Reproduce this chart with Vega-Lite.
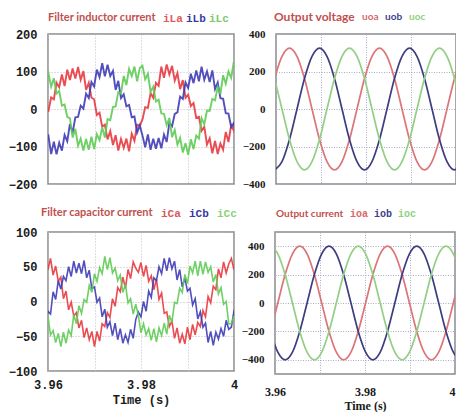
{
  "$schema": "https://vega.github.io/schema/vega-lite/v6.json",
  "background": "#ffffff",
  "padding": {"left": 7, "top": 11, "right": 0, "bottom": 0},
  "config": {
    "view": {"stroke": "#8a8a8a", "strokeWidth": 1.5},
    "axis": {"ticks": false, "domain": false, "grid": true, "labelFlush": false, "gridColor": "#bdbdbd", "gridDash": [1, 2], "gridWidth": 1, "labelFont": "Liberation Mono", "labelFontWeight": "bold", "labelFontSize": 12, "labelColor": "#1a1a1a", "titleFont": "Liberation Mono", "titleFontWeight": "normal", "titleFontSize": 12, "titleColor": "#1a1a1a"},
    "legend": {"orient": "none", "direction": "horizontal", "titleOrient": "left", "titleColor": "#c0504d", "titleFont": "Lato", "titleFontSize": 11, "titleFontWeight": "bold", "titlePadding": 7, "titleLimit": 300, "symbolSize": 0, "symbolOpacity": 0, "symbolStrokeWidth": 0, "labelOffset": -11, "columnPadding": 5, "labelFont": "Liberation Mono", "labelFontWeight": "bold", "labelFontSize": 11}
  },
  "datasets": {
    "iL": [
      {"t":3.95952,"iLa":-6,"iLb":-83,"iLc":73},{"t":3.96010,"iLa":-5,"iLb":-72,"iLc":95},{"t":3.96068,"iLa":31,"iLb":-120,"iLc":60},{"t":3.96126,"iLa":26,"iLb":-87,"iLc":82},
      {"t":3.96183,"iLa":70,"iLb":-121,"iLc":41},{"t":3.96241,"iLa":58,"iLb":-90,"iLc":48},{"t":3.96299,"iLa":92,"iLb":-111,"iLc":9},{"t":3.96357,"iLa":61,"iLb":-69,"iLc":12},
      {"t":3.96414,"iLa":105,"iLb":-86,"iLc":-21},{"t":3.96472,"iLa":77,"iLb":-40,"iLc":-25},{"t":3.96530,"iLa":108,"iLb":-63,"iLc":-76},{"t":3.96588,"iLa":81,"iLb":-22,"iLc":-53},
      {"t":3.96646,"iLa":112,"iLb":-21,"iLc":-98},{"t":3.96703,"iLa":78,"iLb":9,"iLc":-79},{"t":3.96761,"iLa":101,"iLb":1,"iLc":-111},{"t":3.96819,"iLa":51,"iLb":41,"iLc":-80},
      {"t":3.96877,"iLa":70,"iLb":29,"iLc":-109},{"t":3.96934,"iLa":30,"iLb":72,"iLc":-74},{"t":3.96992,"iLa":26,"iLb":60,"iLc":-107},{"t":3.97050,"iLa":-16,"iLb":105,"iLc":-67},
      {"t":3.97108,"iLa":-10,"iLb":85,"iLc":-83},{"t":3.97166,"iLa":-47,"iLb":122,"iLc":-49},{"t":3.97223,"iLa":-42,"iLb":87,"iLc":-76},{"t":3.97281,"iLa":-81,"iLb":118,"iLc":-27},
      {"t":3.97339,"iLa":-59,"iLb":88,"iLc":-30},{"t":3.97397,"iLa":-96,"iLb":102,"iLc":5},{"t":3.97454,"iLa":-70,"iLb":51,"iLc":7},{"t":3.97512,"iLa":-111,"iLb":75,"iLc":45},
      {"t":3.97570,"iLa":-80,"iLb":29,"iLc":41},{"t":3.97628,"iLa":-104,"iLb":39,"iLc":88},{"t":3.97686,"iLa":-79,"iLb":7,"iLc":64},{"t":3.97743,"iLa":-113,"iLb":11,"iLc":107},
      {"t":3.97801,"iLa":-66,"iLb":-22,"iLc":88},{"t":3.97859,"iLa":-85,"iLb":-20,"iLc":113},{"t":3.97917,"iLa":-42,"iLb":-63,"iLc":74},{"t":3.97974,"iLa":-44,"iLb":-44,"iLc":109},
      {"t":3.98032,"iLa":-28,"iLb":-71,"iLc":115},{"t":3.98090,"iLa":5,"iLb":-102,"iLc":79},{"t":3.98148,"iLa":3,"iLb":-68,"iLc":94},{"t":3.98206,"iLa":42,"iLb":-109,"iLc":46},
      {"t":3.98263,"iLa":30,"iLb":-79,"iLc":59},{"t":3.98321,"iLa":70,"iLb":-106,"iLc":20},{"t":3.98379,"iLa":62,"iLb":-77,"iLc":25},{"t":3.98437,"iLa":113,"iLb":-105,"iLc":-12},
      {"t":3.98494,"iLa":83,"iLb":-68,"iLc":-13},{"t":3.98552,"iLa":119,"iLb":-88,"iLc":-43},{"t":3.98610,"iLa":92,"iLb":-37,"iLc":-24},{"t":3.98668,"iLa":115,"iLb":-46,"iLc":-75},
      {"t":3.98726,"iLa":76,"iLb":-13,"iLc":-56},{"t":3.98783,"iLa":96,"iLb":-9,"iLc":-95},{"t":3.98841,"iLa":53,"iLb":33,"iLc":-77},{"t":3.98899,"iLa":77,"iLb":27,"iLc":-116},
      {"t":3.98957,"iLa":30,"iLb":71,"iLc":-91},{"t":3.99014,"iLa":38,"iLb":56,"iLc":-122},{"t":3.99072,"iLa":8,"iLb":94,"iLc":-81},{"t":3.99130,"iLa":16,"iLb":69,"iLc":-107},
      {"t":3.99188,"iLa":-24,"iLb":103,"iLc":-71},{"t":3.99246,"iLa":-21,"iLb":74,"iLc":-79},{"t":3.99303,"iLa":-58,"iLb":113,"iLc":-24},{"t":3.99361,"iLa":-47,"iLb":78,"iLc":-41},
      {"t":3.99419,"iLa":-95,"iLb":100,"iLc":-4},{"t":3.99477,"iLa":-78,"iLb":72,"iLc":-5},{"t":3.99534,"iLa":-118,"iLb":103,"iLc":27},{"t":3.99592,"iLa":-85,"iLb":53,"iLc":23},
      {"t":3.99650,"iLa":-120,"iLb":71,"iLc":59},{"t":3.99708,"iLa":-92,"iLb":29,"iLc":40},{"t":3.99766,"iLa":-109,"iLb":27,"iLc":90},{"t":3.99823,"iLa":-61,"iLb":-11,"iLc":67},
      {"t":3.99881,"iLa":-88,"iLb":-12,"iLc":100},{"t":3.99939,"iLa":-43,"iLb":-48,"iLc":83},{"t":3.99997,"iLa":-58,"iLb":-37,"iLc":126},{"t":4.00054,"iLa":-24,"iLb":-84,"iLc":87}
    ],
    "iC": [
      {"t":3.95943,"iCa":62,"iCb":-37,"iCc":-32},{"t":3.95999,"iCa":46,"iCb":-14,"iCc":-21},{"t":3.96054,"iCa":62,"iCb":-18,"iCc":-48},{"t":3.96110,"iCa":38,"iCb":14,"iCc":-42},
      {"t":3.96165,"iCa":51,"iCb":3,"iCc":-59},{"t":3.96221,"iCa":29,"iCb":30,"iCc":-46},{"t":3.96276,"iCa":35,"iCb":18,"iCc":-65},{"t":3.96332,"iCa":4,"iCb":36,"iCc":-44},
      {"t":3.96387,"iCa":15,"iCb":30,"iCc":-60},{"t":3.96443,"iCa":-12,"iCb":50,"iCc":-41},{"t":3.96499,"iCa":-1,"iCb":36,"iCc":-49},{"t":3.96554,"iCa":-21,"iCb":58,"iCc":-19},
      {"t":3.96610,"iCa":-16,"iCb":41,"iCc":-32},{"t":3.96665,"iCa":-38,"iCb":55,"iCc":-6},{"t":3.96721,"iCa":-27,"iCb":40,"iCc":-17},{"t":3.96776,"iCa":-52,"iCb":59,"iCc":3},
      {"t":3.96832,"iCa":-38,"iCb":34,"iCc":-1},{"t":3.96887,"iCa":-55,"iCb":45,"iCc":23},{"t":3.96943,"iCa":-43,"iCb":18,"iCc":13},{"t":3.96999,"iCa":-65,"iCb":21,"iCc":40},
      {"t":3.97054,"iCa":-43,"iCb":-1,"iCc":29},{"t":3.97110,"iCa":-57,"iCb":5,"iCc":49},{"t":3.97165,"iCa":-32,"iCb":-22,"iCc":40},{"t":3.97221,"iCa":-36,"iCb":-11,"iCc":65},
      {"t":3.97276,"iCa":-16,"iCb":-37,"iCc":46},{"t":3.97332,"iCa":-23,"iCb":-29,"iCc":63},{"t":3.97387,"iCa":4,"iCb":-49,"iCc":41},{"t":3.97443,"iCa":-7,"iCb":-31,"iCc":48},
      {"t":3.97499,"iCa":20,"iCb":-55,"iCc":30},{"t":3.97554,"iCa":14,"iCb":-39,"iCc":38},{"t":3.97610,"iCa":35,"iCb":-60,"iCc":13},{"t":3.97665,"iCa":19,"iCb":-48,"iCc":25},
      {"t":3.97721,"iCa":46,"iCb":-59,"iCc":-2},{"t":3.97776,"iCa":33,"iCb":-40,"iCc":4},{"t":3.97832,"iCa":57,"iCb":-53,"iCc":-18},{"t":3.97887,"iCa":48,"iCb":-26,"iCc":-4},
      {"t":3.97943,"iCa":42,"iCb":-15,"iCc":-20},{"t":3.97999,"iCa":56,"iCb":-22,"iCc":-45},{"t":3.98054,"iCa":36,"iCb":0,"iCc":-32},{"t":3.98110,"iCa":52,"iCb":-14,"iCc":-48},
      {"t":3.98165,"iCa":29,"iCb":15,"iCc":-39},{"t":3.98221,"iCa":37,"iCb":6,"iCc":-56},{"t":3.98276,"iCa":17,"iCb":34,"iCc":-39},{"t":3.98332,"iCa":32,"iCb":30,"iCc":-58},
      {"t":3.98387,"iCa":3,"iCb":50,"iCc":-38},{"t":3.98443,"iCa":12,"iCb":40,"iCc":-49},{"t":3.98499,"iCa":-17,"iCb":62,"iCc":-31},{"t":3.98554,"iCa":-15,"iCb":44,"iCc":-47},
      {"t":3.98610,"iCa":-36,"iCb":63,"iCc":-20},{"t":3.98665,"iCa":-28,"iCb":47,"iCc":-30},{"t":3.98721,"iCa":-53,"iCb":58,"iCc":-1},{"t":3.98776,"iCa":-38,"iCb":31,"iCc":-3},
      {"t":3.98832,"iCa":-60,"iCb":46,"iCc":19},{"t":3.98887,"iCa":-47,"iCb":21,"iCc":13},{"t":3.98943,"iCa":-61,"iCb":34,"iCc":39},{"t":3.98999,"iCa":-37,"iCb":15,"iCc":26},
      {"t":3.99054,"iCa":-55,"iCb":19,"iCc":51},{"t":3.99110,"iCa":-33,"iCb":-5,"iCc":41},{"t":3.99165,"iCa":-48,"iCb":4,"iCc":58},{"t":3.99221,"iCa":-30,"iCb":-25,"iCc":37},
      {"t":3.99276,"iCa":-36,"iCb":-15,"iCc":58},{"t":3.99332,"iCa":-13,"iCb":-37,"iCc":39},{"t":3.99387,"iCa":-22,"iCb":-31,"iCc":57},{"t":3.99443,"iCa":7,"iCb":-59,"iCc":42},
      {"t":3.99499,"iCa":-2,"iCb":-43,"iCc":50},{"t":3.99554,"iCa":22,"iCb":-63,"iCc":28},{"t":3.99610,"iCa":17,"iCb":-44,"iCc":39},{"t":3.99665,"iCa":47,"iCb":-54,"iCc":11},
      {"t":3.99721,"iCa":34,"iCb":-39,"iCc":20},{"t":3.99776,"iCa":57,"iCb":-50,"iCc":-4},{"t":3.99832,"iCa":41,"iCb":-27,"iCc":0},{"t":3.99887,"iCa":54,"iCb":-40,"iCc":-32},
      {"t":3.99943,"iCa":62,"iCb":-37,"iCc":-32},{"t":3.99999,"iCa":46,"iCb":-14,"iCc":-21},{"t":4.00054,"iCa":62,"iCb":-18,"iCc":-48}
    ],
    "uo": [
      {"t":3.95967,"uoa":163,"uob":-325,"uoc":163},{"t":3.96133,"uoa":281,"uob":-281,"uoc":0},{"t":3.96300,"uoa":325,"uob":-163,"uoc":-163},{"t":3.96467,"uoa":281,"uob":0,"uoc":-281},
      {"t":3.96633,"uoa":163,"uob":163,"uoc":-325},{"t":3.96800,"uoa":0,"uob":281,"uoc":-281},{"t":3.96967,"uoa":-163,"uob":325,"uoc":-163},{"t":3.97133,"uoa":-281,"uob":281,"uoc":0},
      {"t":3.97300,"uoa":-325,"uob":163,"uoc":163},{"t":3.97467,"uoa":-281,"uob":0,"uoc":281},{"t":3.97633,"uoa":-163,"uob":-163,"uoc":325},{"t":3.97800,"uoa":0,"uob":-281,"uoc":281},
      {"t":3.97967,"uoa":163,"uob":-325,"uoc":163},{"t":3.98133,"uoa":281,"uob":-281,"uoc":0},{"t":3.98300,"uoa":325,"uob":-163,"uoc":-163},{"t":3.98467,"uoa":281,"uob":0,"uoc":-281},
      {"t":3.98633,"uoa":163,"uob":163,"uoc":-325},{"t":3.98800,"uoa":0,"uob":281,"uoc":-281},{"t":3.98967,"uoa":-163,"uob":325,"uoc":-163},{"t":3.99133,"uoa":-281,"uob":281,"uoc":0},
      {"t":3.99300,"uoa":-325,"uob":163,"uoc":163},{"t":3.99467,"uoa":-281,"uob":0,"uoc":281},{"t":3.99633,"uoa":-163,"uob":-163,"uoc":325},{"t":3.99800,"uoa":0,"uob":-281,"uoc":281},
      {"t":3.99967,"uoa":163,"uob":-325,"uoc":163},{"t":4.00133,"uoa":281,"uob":-281,"uoc":0}
    ],
    "io": [
      {"t":3.95900,"ioa":-200,"iob":-200,"ioc":400},{"t":3.96063,"ioa":0,"iob":-346,"ioc":346},{"t":3.96225,"ioa":200,"iob":-400,"ioc":200},{"t":3.96388,"ioa":346,"iob":-346,"ioc":0},
      {"t":3.96550,"ioa":400,"iob":-200,"ioc":-200},{"t":3.96713,"ioa":346,"iob":0,"ioc":-346},{"t":3.96875,"ioa":200,"iob":200,"ioc":-400},{"t":3.97038,"ioa":0,"iob":346,"ioc":-346},
      {"t":3.97200,"ioa":-200,"iob":400,"ioc":-200},{"t":3.97363,"ioa":-346,"iob":346,"ioc":0},{"t":3.97525,"ioa":-400,"iob":200,"ioc":200},{"t":3.97688,"ioa":-346,"iob":0,"ioc":346},
      {"t":3.97850,"ioa":-200,"iob":-200,"ioc":400},{"t":3.98013,"ioa":0,"iob":-346,"ioc":346},{"t":3.98175,"ioa":200,"iob":-400,"ioc":200},{"t":3.98338,"ioa":346,"iob":-346,"ioc":0},
      {"t":3.98500,"ioa":400,"iob":-200,"ioc":-200},{"t":3.98663,"ioa":346,"iob":0,"ioc":-346},{"t":3.98825,"ioa":200,"iob":200,"ioc":-400},{"t":3.98988,"ioa":0,"iob":346,"ioc":-346},
      {"t":3.99150,"ioa":-200,"iob":400,"ioc":-200},{"t":3.99313,"ioa":-346,"iob":346,"ioc":0},{"t":3.99475,"ioa":-400,"iob":200,"ioc":200},{"t":3.99638,"ioa":-346,"iob":0,"ioc":346},
      {"t":3.99800,"ioa":-200,"iob":-200,"ioc":400},{"t":3.99963,"ioa":0,"iob":-346,"ioc":346},{"t":4.00125,"ioa":200,"iob":-400,"ioc":200}
    ]
  },
  "spacing": 16,
  "resolve": {"scale": {"color": "independent"}},
  "vconcat": [
    {
      "bounds": "flush",
      "spacing": 42,
      "resolve": {"scale": {"color": "independent"}},
      "hconcat": [
        {
          "width": 186, "height": 150,
          "data": {"name": "iL"},
          "transform": [{"fold": ["iLa", "iLb", "iLc"], "as": ["s", "v"]}],
          "mark": {"type": "line", "clip": true, "strokeWidth": 1.9, "opacity": 0.9},
          "encoding": {
            "x": {"field": "t", "type": "quantitative", "scale": {"domain": [3.96, 4.0], "nice": false, "zero": false}, "axis": {"values": [3.96, 3.97, 3.98, 3.99, 4.0], "labels": false, "title": null}},
            "y": {"field": "v", "type": "quantitative", "scale": {"domain": [-200, 200], "nice": false}, "axis": {"values": [-200, -100, 0, 100, 200], "title": null, "labelPadding": 11}},
            "color": {"field": "s", "type": "nominal", "scale": {"domain": ["iLa", "iLb", "iLc"], "range": ["#e8393f", "#3f3cb6", "#5fcb55"]},
              "legend": {"legendX": 0, "legendY": -21, "title": "Filter inductor current", "columnPadding": 3, "labelColor": {"expr": "datum.value == 'iLa' ? '#e05a5e' : datum.value == 'iLb' ? '#3b3ba0' : '#7cc96b'"}}}
          }
        },
        {
          "width": 180, "height": 150,
          "data": {"name": "uo"},
          "transform": [{"fold": ["uoa", "uob", "uoc"], "as": ["s", "v"]}],
          "mark": {"type": "line", "clip": true, "strokeWidth": 1.7, "interpolate": "monotone"},
          "encoding": {
            "x": {"field": "t", "type": "quantitative", "scale": {"domain": [3.96, 4.0], "nice": false, "zero": false}, "axis": {"values": [3.96, 3.97, 3.98, 3.99, 4.0], "labels": false, "title": null, "gridColor": "#a9a9c8", "gridDash": [1, 1.5]}},
            "y": {"field": "v", "type": "quantitative", "scale": {"domain": [-400, 400], "nice": false}, "axis": {"values": [-400, -200, 0, 200, 400], "title": null, "labelPadding": 11, "labelFont": "Liberation Serif", "labelFontSize": 11, "gridColor": "#a9a9c8", "gridDash": [1, 1.5]}},
            "color": {"field": "s", "type": "nominal", "scale": {"domain": ["uoa", "uob", "uoc"], "range": ["#dc7478", "#3d3d80", "#92cf84"]},
              "legend": {"legendX": -2, "legendY": -22, "title": "Output voltage", "titleFontSize": 12, "columnPadding": 6, "labelFont": "Lato", "labelFontSize": 10, "labelColor": {"expr": "datum.value == 'uoa' ? '#d9676b' : datum.value == 'uob' ? '#3e3e8e' : '#8fcf7f'"}}}
          }
        }
      ]
    },
    {
      "bounds": "flush",
      "spacing": 41,
      "resolve": {"scale": {"color": "independent"}},
      "hconcat": [
        {
          "width": 186, "height": 139,
          "data": {"name": "iC"},
          "transform": [{"fold": ["iCa", "iCb", "iCc"], "as": ["s", "v"]}],
          "mark": {"type": "line", "clip": true, "strokeWidth": 1.6, "opacity": 0.9},
          "encoding": {
            "x": {"field": "t", "type": "quantitative", "scale": {"domain": [3.96, 4.0], "nice": false, "zero": false}, "axis": {"values": [3.96, 3.97, 3.98, 3.99, 4.0], "format": "~g", "labelExpr": "round(datum.value * 100) % 2 == 0 ? datum.label : ''", "title": "Time (s)", "labelPadding": 8, "titlePadding": 4, "titleFontWeight": "bold"}},
            "y": {"field": "v", "type": "quantitative", "scale": {"domain": [-100, 100], "nice": false}, "axis": {"values": [-100, -50, 0, 50, 100], "title": null, "labelPadding": 11}},
            "color": {"field": "s", "type": "nominal", "scale": {"domain": ["iCa", "iCb", "iCc"], "range": ["#e8393f", "#3f3cb6", "#5fcb55"]},
              "legend": {"legendX": -7, "legendY": -24, "title": "Filter capacitor current", "columnPadding": 8, "labelColor": {"expr": "datum.value == 'iCa' ? '#d65a5f' : datum.value == 'iCb' ? '#3838a0' : '#8bd07a'"}}}
          }
        },
        {
          "width": 180, "height": 142,
          "data": {"name": "io"},
          "transform": [{"fold": ["ioa", "iob", "ioc"], "as": ["s", "v"]}],
          "mark": {"type": "line", "clip": true, "strokeWidth": 1.7, "interpolate": "monotone"},
          "encoding": {
            "x": {"field": "t", "type": "quantitative", "scale": {"domain": [3.96, 4.0], "nice": false, "zero": false}, "axis": {"values": [3.96, 3.97, 3.98, 3.99, 4.0], "format": "~g", "labelExpr": "round(datum.value * 100) % 2 == 0 ? datum.label : ''", "labelAlign": {"expr": "datum.value > 3.999 ? 'right' : 'center'"}, "title": "Time (s)", "labelPadding": 12, "titlePadding": 3, "labelFont": "Liberation Serif", "titleFont": "Liberation Serif", "titleFontWeight": "bold", "gridColor": "#a9a9c8", "gridDash": [1, 1.5]}},
            "y": {"field": "v", "type": "quantitative", "scale": {"domain": [-500, 500], "nice": false}, "axis": {"values": [-400, -200, 0, 200, 400], "title": null, "labelPadding": 11, "labelFont": "Liberation Serif", "labelFontSize": 11, "gridColor": "#a9a9c8", "gridDash": [1, 1.5]}},
            "color": {"field": "s", "type": "nominal", "scale": {"domain": ["ioa", "iob", "ioc"], "range": ["#dc7478", "#3d3d80", "#92cf84"]},
              "legend": {"legendX": 1, "legendY": -23, "title": "Output current", "titleFontSize": 10, "columnPadding": 5, "labelFontSize": 10, "labelColor": {"expr": "datum.value == 'ioa' ? '#d9676b' : datum.value == 'iob' ? '#404090' : '#90d080'"}}}
          }
        }
      ]
    }
  ]
}
